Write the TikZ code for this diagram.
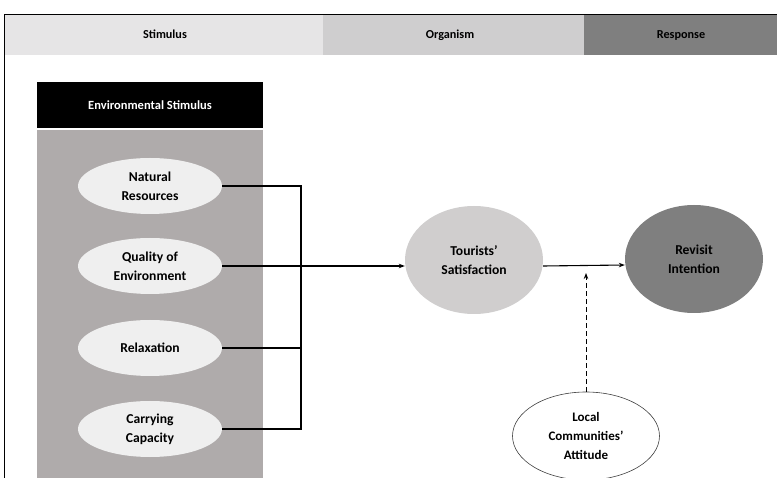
\documentclass[tikz,border=0pt]{standalone}
\usepackage{fontspec}
\setmainfont{Carlito}
\usetikzlibrary{shapes.geometric,arrows.meta}
\definecolor{hdrA}{HTML}{E6E5E6}
\definecolor{hdrB}{HTML}{CFCECF}
\definecolor{hdrC}{HTML}{7F7F7F}
\definecolor{panel}{HTML}{AFABAB}
\definecolor{ellLight}{HTML}{EFEFEF}
\definecolor{ellMid}{HTML}{D0CECE}
\definecolor{ellDark}{HTML}{7F7F7F}
\tikzset{
  hdrtext/.style={font=\fontsize{12.2}{14}\selectfont\bfseries, text=black, anchor=base},
  stimell/.style={ellipse, fill=ellLight, minimum width=144pt, minimum height=56pt, inner sep=0pt, align=center, font=\fontsize{13.6}{19}\selectfont\bfseries},
  bigell/.style={ellipse, minimum width=138pt, minimum height=108pt, inner sep=0pt, align=center, font=\fontsize{13.6}{19}\selectfont\bfseries},
  conn/.style={line width=1.1pt, black},
  arr/.style={conn, -{Stealth[length=6pt,width=4.5pt]}},
}
\begin{document}
\begin{tikzpicture}[x=1pt,y=-1pt]
\useasboundingbox (0,0) rectangle (777,478);
\clip (0,0) rectangle (777,478);
% header bands
\fill[hdrA] (5,15) rectangle (323,55);
\fill[hdrB] (323,15) rectangle (584,55);
\fill[hdrC] (584,15) rectangle (777,55);
\node[hdrtext] (hs) at (165,39) {Stimulus};
\node[hdrtext] (ho) at (450,39) {Organism};
\node[hdrtext] (hr) at (681,39) {Response};
% frame
\draw[line width=1.5pt] (4.5,478) -- (4.5,14.5) -- (777,14.5);
% environmental stimulus box
\node[fill=black, minimum width=226pt, minimum height=46pt, inner sep=0pt, text=white, font=\fontsize{12.5}{14}\selectfont\bfseries] (es) at (150,105) {Environmental Stimulus};
\fill[panel] (37,130) rectangle (263,480);
% stimulus ellipses
\node[stimell] (nr) at (150,186) {Natural\\Resources};
\node[stimell] (qe) at (150,266) {Quality of\\Environment};
\node[stimell] (rx) at (150,348) {Relaxation};
\node[stimell] (cc) at (150,429) {Carrying\\Capacity};
% organism / response
\node[bigell, fill=ellMid] (ts) at (474,260) {Tourists'\\Satisfaction};
\node[bigell, fill=ellDark] (ri) at (694,259) {Revisit\\Intention};
\node[ellipse, draw=black!75, line width=0.6pt, fill=white, minimum width=147pt, minimum height=88pt, inner sep=0pt, align=center, font=\fontsize{13}{19}\selectfont\bfseries] (lc) at (586,436) {Local\\Communities'\\Attitude};
% connectors
\coordinate (jx) at (301,300);
\draw[conn] (nr.east) -| (jx) |- (cc.east);
\draw[conn] (rx.east) -- (rx.east -| jx);
\draw[arr] (qe.east) -- (qe.east -| ts.west);
\draw[arr] ([yshift=-6pt]ts.east) -- ([yshift=-6pt]ri.west);
\coordinate (dtip) at (586,273);
\draw[arr, line width=0.9pt, dash pattern=on 5pt off 3pt] (lc.north) -- (dtip);
\end{tikzpicture}
\end{document}
